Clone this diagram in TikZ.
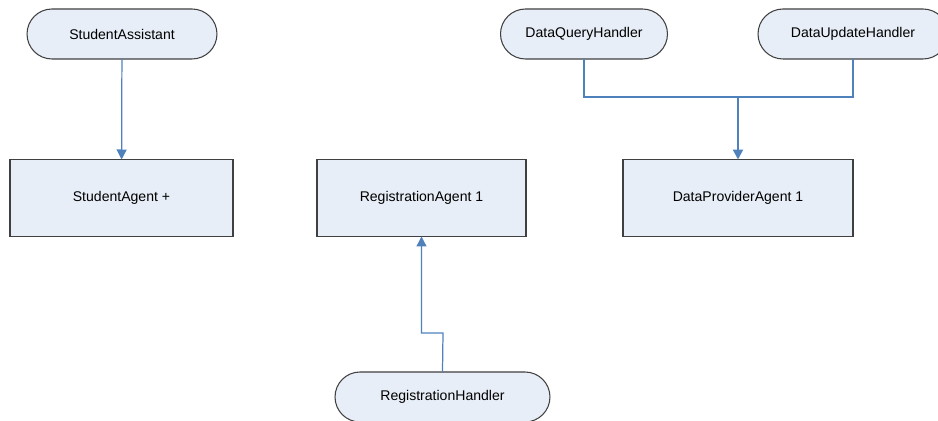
\documentclass[tikz,border=0pt]{standalone}
\usepackage{fontspec}
\setmainfont{Liberation Sans}
\usepackage{xcolor}
\usepackage{tikz}
\usetikzlibrary{arrows.meta,positioning}
\definecolor{relleno}{RGB}{232,238,247}
\definecolor{borde}{RGB}{64,64,64}
\definecolor{conector}{RGB}{79,129,189}
\tikzset{
  manejador/.style={rectangle,rounded corners=0.5cm,draw=borde,fill=relleno,
    line width=0.6pt,minimum height=1cm,align=center,inner sep=1pt},
  agente/.style={rectangle,draw=borde,fill=relleno,line width=0.6pt,
    minimum height=1.54cm,align=center,inner sep=1pt},
  enlace/.style={draw=conector,line width=0.7pt},
  flujo/.style={-{Triangle[length=2mm,width=2mm]},draw=conector,line width=0.7pt}
}

\begin{document}
\begin{tikzpicture}[
  x=0.02cm,y=-0.02cm,
  font=\fontsize{8}{9.6}\selectfont,
  every node/.style={outer sep=0pt}
]
\useasboundingbox (0,0) rectangle (938,421);

% 1. Asistente del estudiante
\node[manejador,minimum width=3.8cm] (asistente) at (122,34) {StudentAssistant};
\node[agente,minimum width=4.46cm] (estudiante) at (121.5,198) {StudentAgent +};
\draw[flujo] (asistente)--(estudiante);

% 2. Registro
\node[agente,minimum width=4.18cm] (registro) at (421.5,198) {RegistrationAgent 1};
\node[manejador,minimum width=4.3cm] (regman) at (442.5,397) {RegistrationHandler};
\coordinate (regcodo) at (443,333);
\draw[flujo] (regman.north)--(regcodo) -| (registro.south);

% 3. Proveedor de datos
\node[manejador,minimum width=3.34cm] (consulta) at (584,34) {DataQueryHandler};
\node[manejador,minimum width=3.8cm] (actualiza) at (853,34) {DataUpdateHandler};
\node[agente,minimum width=4.6cm] (proveedor) at (738,198) {DataProviderAgent 1};
\coordinate (datbus) at (738,97);
\draw[enlace] (consulta.south) |- (datbus) -| (actualiza.south);
\draw[flujo,line width=1.2pt] (datbus)--(proveedor.north);

\end{tikzpicture}
\end{document}
